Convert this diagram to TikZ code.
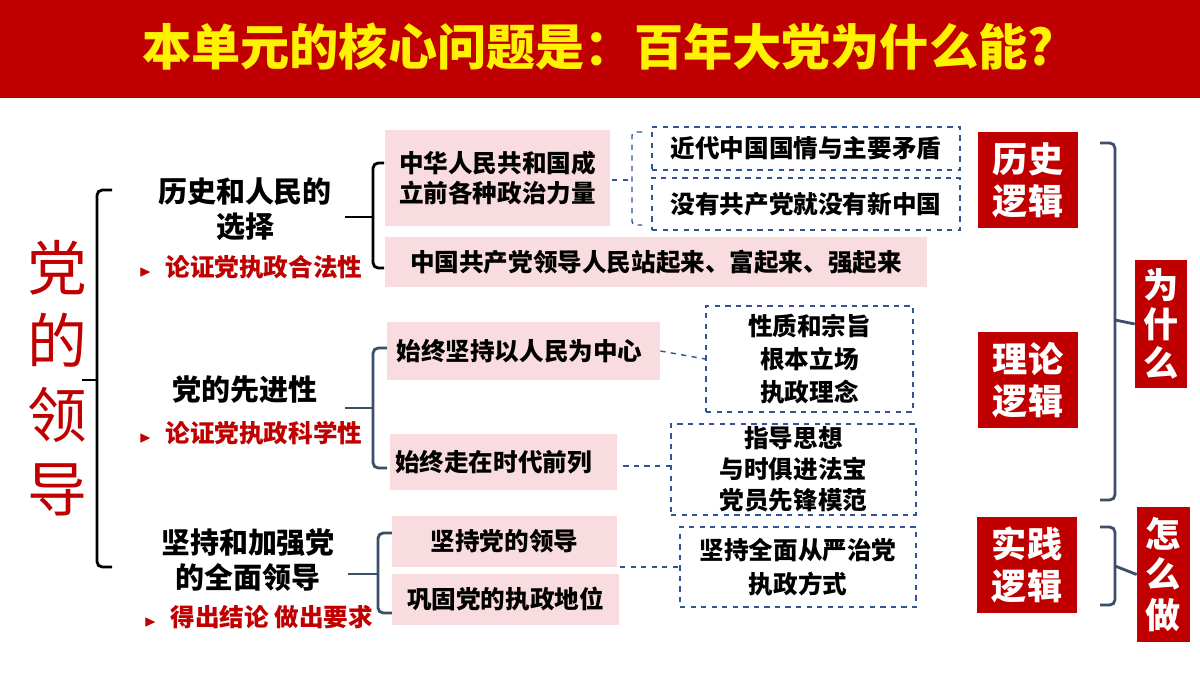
\documentclass[tikz,border=0pt]{standalone}
\usepackage{amssymb}
\usepackage{fontspec}
\setmainfont{Noto Sans CJK SC}
\usetikzlibrary{calc}
\definecolor{dred}{HTML}{C00000}
\definecolor{pink}{HTML}{F9DCDF}
\definecolor{dblue}{HTML}{2F5597}
\definecolor{slate}{HTML}{3B4E6A}
\tikzset{
 px/.style={x=0.02cm,y=-0.02cm},
 sz/.style n args={2}{minimum width={#1*0.02cm},minimum height={#2*0.02cm}},
 pbox/.style={fill=pink,draw=none,inner sep=0},
 dbox/.style={draw=dblue,dashed,thick,inner sep=0},
 rbox/.style={fill=dred,draw=none,inner sep=0},
 txt/.style={font=\fontsize{14}{17}\selectfont\bfseries,align=center},
 ltxt/.style={font=\fontsize{16.5}{20}\selectfont\bfseries,align=center},
 rtxt/.style={font=\fontsize{14}{17}\selectfont\bfseries,text=dred},
 wtxt/.style={font=\fontsize{20}{24}\selectfont\bfseries,text=white,align=center},
 brk/.style={line width=1.6pt,rounded corners=3pt},
 brk2/.style={line width=1.6pt,draw=slate,rounded corners=3pt},
 dlink/.style={draw=dblue,dashed,thick},
}
\begin{document}
\begin{tikzpicture}[px]
\useasboundingbox (0,0) rectangle (1200,675);
\fill[white] (0,0) rectangle (1200,675);
\fill[dred] (0,0) rectangle (1200,98);
\node[font=\fontsize{28}{32}\selectfont\bfseries,text=yellow] (title) at (598,47) {本单元的核心问题是：百年大党为什么能?};
% left big label
\node[font=\fontsize{34}{38}\selectfont,text=dred,align=center] (root) at (57,378) {党\\[4pt]的\\[4pt]领\\[4pt]导};
\draw[brk] (112,190) -- (97,190) -- (97,567) -- (112,567);
\draw[line width=1.6pt] (82,380) -- (97,380);
% level 1
\node[ltxt] (l1) at (245,209) {历史和人民的\\选择};
\node[rtxt,anchor=west] (r1) at (133,267) {{\small$\blacktriangleright$}\hspace{8pt}论证党执政合法性};
\node[ltxt] (l2) at (245,390) {党的先进性};
\node[rtxt,anchor=west] (r2) at (133,433) {{\small$\blacktriangleright$}\hspace{8pt}论证党执政科学性};
\node[ltxt] (l3) at (248,560) {坚持和加强党\\的全面领导};
\node[rtxt,anchor=west] (r3) at (138,617) {{\small$\blacktriangleright$}\hspace{8pt}得出结论 做出要求};
% level 2 brackets
\draw[brk] (384,163) -- (373,163) -- (373,268) -- (384,268);
\draw[line width=1.6pt] (345,217) -- (373,217);
\draw[brk2] (387,348) -- (373,348) -- (373,468) -- (387,468);
\draw[line width=1.6pt,slate] (345,408) -- (373,408);
\draw[brk2] (392,533) -- (378,533) -- (378,613) -- (392,613);
\draw[line width=1.6pt,slate] (348,574) -- (378,574);
% pink boxes
\node[pbox,sz={225}{96}] (b1) at (497.5,178) {};
\node[txt,align=left] at (b1) {中华人民共和国成\\立前各种政治力量};
\node[pbox,sz={542}{50}] (b2) at (656,262) {};
\node[txt] at (b2) {中国共产党领导人民站起来、富起来、强起来};
\node[pbox,sz={273}{58}] (b3) at (523.5,351) {};
\node[txt] at ($(b3)+(-4,0)$) {始终坚持以人民为中心};
\node[pbox,sz={227}{56}] (b4) at (503.5,462) {};
\node[txt] at ($(b4)+(-10,0)$) {始终走在时代前列};
\node[pbox,sz={225}{51}] (b5) at (504.5,541.5) {};
\node[txt] at (b5) {坚持党的领导};
\node[pbox,sz={227}{51}] (b6) at (505.5,599.5) {};
\node[txt] at (b6) {巩固党的执政地位};
% dashed boxes
\node[dbox,sz={308}{43}] (d1) at (806,148.5) {};
\node[txt] at (d1) {近代中国国情与主要矛盾};
\node[dbox,sz={308}{52}] (d2) at (806,204) {};
\node[txt] at (d2) {没有共产党就没有新中国};
\draw[dlink,rounded corners=2pt] (642,132) -- (632,132) -- (632,225) -- (642,225);
\draw[dlink] (612,180) -- (632,180);
\node[dbox,sz={207}{106}] (d3) at (809.5,359) {};
\node[txt,font=\fontsize{14}{19}\selectfont\bfseries] at (d3) {性质和宗旨\\根本立场\\执政理念};
\node[dbox,sz={245}{91}] (d4) at (793.5,469.5) {};
\node[txt,font=\fontsize{14}{17.5}\selectfont\bfseries] at (d4) {指导思想\\与时俱进法宝\\党员先锋模范};
\node[dbox,sz={236}{80}] (d5) at (798,567) {};
\node[txt,font=\fontsize{14}{19}\selectfont\bfseries] at (d5) {坚持全面从严治党\\执政方式};
\draw[dlink] (b3.east) -- (d3.west);
\draw[dlink] ($(b4.east)+(6,4)$) -- (d4.west |- 0,466);
\draw[dlink] (620,567) -- (d5.west |- 0,567);
% right red boxes
\node[rbox,sz={100}{96}] (h) at (1028,180) {};
\node[wtxt] at (h) {历史\\逻辑};
\node[rbox,sz={100}{96}] (t) at (1028,380) {};
\node[wtxt] at (t) {理论\\逻辑};
\node[rbox,sz={100}{96}] (s) at (1027,565) {};
\node[wtxt] at (s) {实践\\逻辑};
\node[rbox,sz={52}{128}] (w) at (1161,324) {};
\node[wtxt,font=\fontsize{20}{22}\selectfont\bfseries] at (w) {为\\什\\么};
\node[rbox,sz={53}{135}] (z) at (1163.5,574.5) {};
\node[wtxt,font=\fontsize{20}{23}\selectfont\bfseries] at (z) {怎\\么\\做};
\draw[brk2] (1100,143) -- (1115,143) -- (1115,500) -- (1100,500);
\draw[line width=1.6pt,slate] (1115,320) -- (w.west);
\draw[brk2] (1100,527) -- (1115,527) -- (1115,605) -- (1100,605);
\draw[line width=1.6pt,slate] (1115,566) -- (z.west);
\end{tikzpicture}
\end{document}
